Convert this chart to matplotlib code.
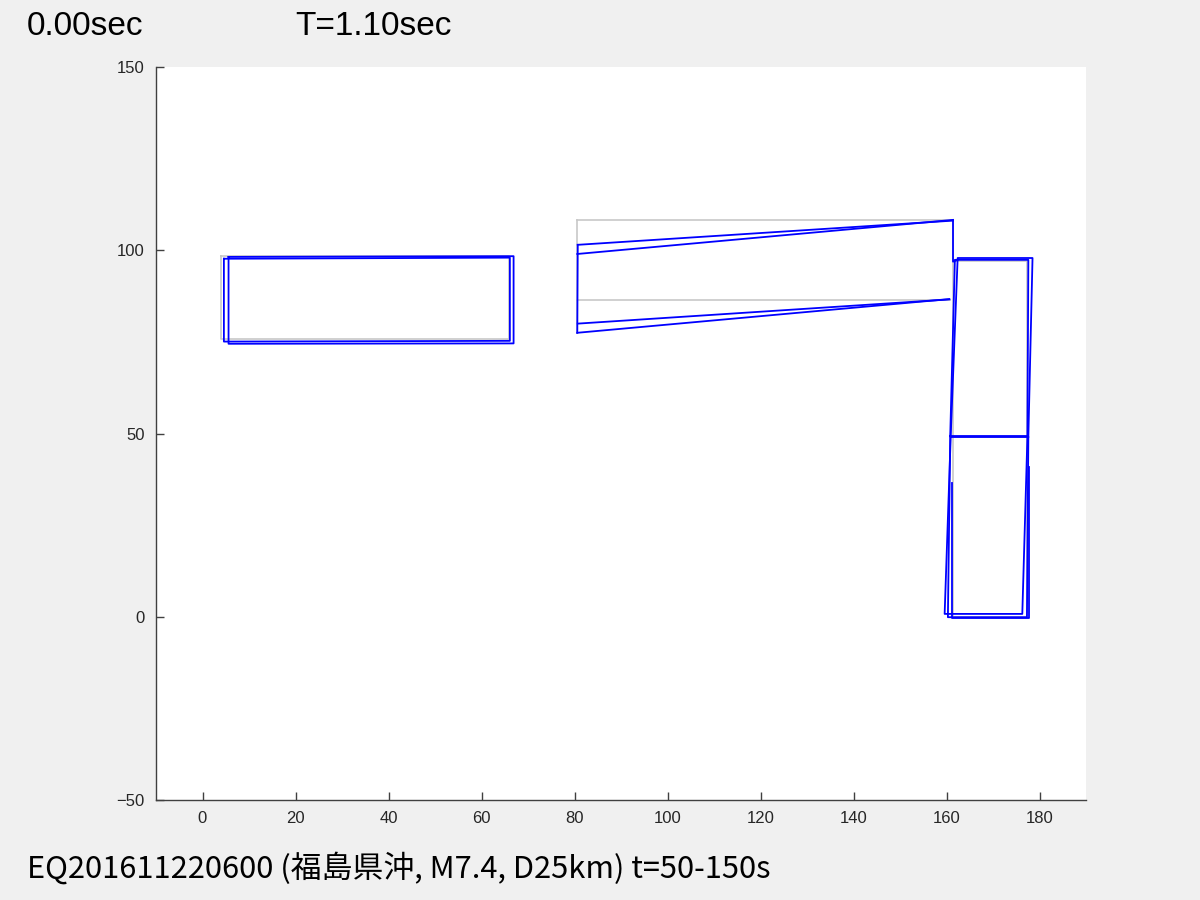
import matplotlib
matplotlib.use("Agg")
import matplotlib.pyplot as plt

plt.rcParams['font.family'] = ['Noto Sans CJK JP', 'DejaVu Sans']

# undeformed frame (gray)
gray_lines = [
    ([4.0, 66.0, 66.0, 4.0, 4.0], [98.5, 98.5, 75.7, 75.7, 98.5]),
    ([80.5, 161.3], [108.3, 108.3]),
    ([80.5, 160.8], [86.5, 86.5]),
    ([80.5, 80.5], [108.3, 77.5]),
    ([161.3, 161.3], [108.3, 97.1]),
    ([161.5, 161.5], [97.1, 0.0]),
    ([177.4, 177.4], [97.1, 0.0]),
    ([161.5, 177.4], [97.1, 97.1]),
    ([161.5, 177.4], [49.0, 49.0]),
    ([161.5, 177.4], [0.0, 0.0]),
]

# deformed frame (blue)
blue_lines = [
    # left block
    ([5.6, 66.9, 66.9, 5.6, 5.6], [98.2, 98.4, 74.6, 74.5, 98.2]),
    ([4.6, 66.1, 66.1, 4.6, 4.6], [97.7, 98.0, 75.3, 75.1, 97.7]),
    # middle beam
    ([80.7, 161.4], [101.5, 108.1]),
    ([80.6, 161.4], [99.0, 108.3]),
    ([80.7, 160.6], [80.0, 86.6]),
    ([80.6, 160.6], [77.5, 86.7]),
    ([80.7, 80.6], [101.5, 77.5]),
    ([161.4, 161.4, 162.4], [108.2, 96.9, 97.4]),
    # right frame, upper story
    ([160.9, 162.4, 178.5, 177.6], [49.1, 97.9, 97.9, 49.1]),
    ([160.8, 161.8, 177.6, 177.4], [49.3, 97.4, 97.4, 49.3]),
    ([160.9, 177.6], [49.0, 49.0]),
    ([160.8, 177.4], [49.3, 49.3]),
    # right frame, lower story
    ([160.9, 159.6, 176.3, 177.4], [49.1, 0.8, 0.8, 49.1]),
    ([160.8, 160.3, 177.3, 177.6], [49.3, -0.1, -0.1, 49.0]),
    ([161.2, 161.2, 177.8, 177.8], [36.5, -0.3, -0.3, 41.0]),
]

xticks = [0, 20, 40, 60, 80, 100, 120, 140, 160, 180]
yticks = [-50, 0, 50, 100, 150]

time_label = "0.00sec"
period_label = "T=1.10sec"
eq_label = "EQ201611220600 (福島県沖, M7.4, D25km) t=50-150s"


def main():
    fig = plt.figure(figsize=(12, 9), dpi=100, facecolor="#f0f0f0")
    ax = fig.add_axes([0.13, 0.111, 0.775, 0.8145])

    for xs, ys in gray_lines:
        ax.plot(xs, ys, color="#c8c8c8", linewidth=1.2)
    for xs, ys in blue_lines:
        ax.plot(xs, ys, color="#0000ff", linewidth=1.3)

    ax.set_xlim(-10, 190)
    ax.set_ylim(-50, 150)
    ax.set_xticks(xticks)
    ax.set_yticks(yticks)
    ax.spines["top"].set_visible(False)
    ax.spines["right"].set_visible(False)
    for s in ("left", "bottom"):
        ax.spines[s].set_color("#404040")
        ax.spines[s].set_linewidth(1.0)
    ax.tick_params(direction="in", length=6, width=1.0, color="#404040",
                   labelcolor="#262626", labelsize=12, pad=8)
    for lbl in ax.get_xticklabels() + ax.get_yticklabels():
        lbl.set_family(["Liberation Sans", "DejaVu Sans"])

    fig.text(0.0225, 0.961, time_label, fontsize=24, va="baseline",
             family=["Liberation Sans", "DejaVu Sans"])
    fig.text(0.246, 0.961, period_label, fontsize=24, va="baseline",
             family=["Liberation Sans", "DejaVu Sans"])
    fig.text(0.0225, 0.025, eq_label, fontsize=22.2, va="baseline")

    fig.savefig("out.png", dpi=100, facecolor=fig.get_facecolor())


if __name__ == '__main__':
    main()
